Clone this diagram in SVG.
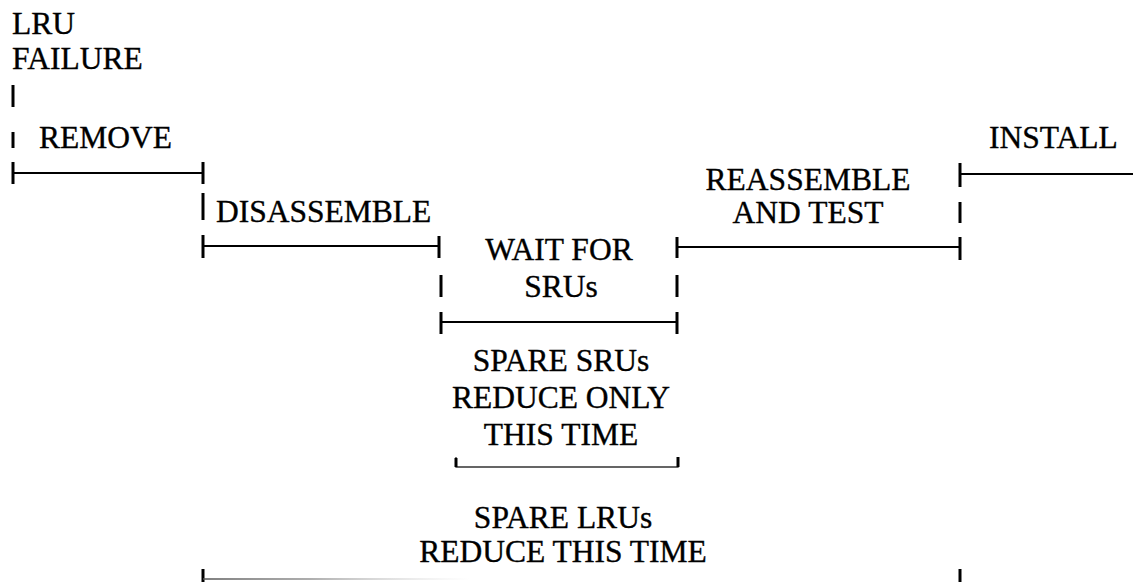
<svg xmlns="http://www.w3.org/2000/svg" width="1133" height="582" viewBox="0 0 1133 582">
  <style>
    text { font-family: "Liberation Serif", "Times New Roman", serif; font-size: 31.5px; fill: #000; stroke: #000; stroke-width: 0.35; }
    .mid { text-anchor: middle; }
    .tick { stroke: #000; stroke-width: 3; fill: none; }
    .bar { stroke: #000; stroke-width: 2; fill: none; }
    .thin { stroke: #333; stroke-width: 1.3; fill: none; }
  </style>
  <defs>
    <linearGradient id="fadeBar" x1="203" y1="0" x2="470" y2="0" gradientUnits="userSpaceOnUse">
      <stop offset="0" stop-color="#555" stop-opacity="1"/>
      <stop offset="0.4" stop-color="#777" stop-opacity="0.8"/>
      <stop offset="1" stop-color="#bbb" stop-opacity="0"/>
    </linearGradient>
  </defs>
  <rect width="1133" height="582" fill="#fff"/>

  <!-- phase labels -->
  <g id="lru-failure">
    <text x="12" y="34">LRU</text>
    <text x="12" y="69">FAILURE</text>
  </g>
  <g id="remove">
    <text x="39" y="148">REMOVE</text>
  </g>
  <g id="disassemble">
    <text x="216" y="222">DISASSEMBLE</text>
  </g>
  <g id="wait-for-srus">
    <text class="mid" x="559" y="260">WAIT FOR</text>
    <text class="mid" x="561" y="297">SRUs</text>
  </g>
  <g id="reassemble-and-test">
    <text class="mid" x="808" y="190">REASSEMBLE</text>
    <text class="mid" x="808" y="223">AND TEST</text>
  </g>
  <g id="install">
    <text x="989" y="148">INSTALL</text>
  </g>
  <g id="spare-srus">
    <text class="mid" x="561" y="371">SPARE SRUs</text>
    <text class="mid" x="561" y="408">REDUCE ONLY</text>
    <text class="mid" x="561" y="445">THIS TIME</text>
  </g>
  <g id="spare-lrus">
    <text class="mid" x="563" y="528">SPARE LRUs</text>
    <text class="mid" x="563" y="562">REDUCE THIS TIME</text>
  </g>

  <!-- timeline brackets -->
  <g id="connectors">
    <!-- remove -->
    <line class="tick" x1="13" y1="85" x2="13" y2="107"/>
    <line class="tick" x1="13" y1="132" x2="13" y2="148"/>
    <line class="tick" x1="13" y1="162" x2="13" y2="184"/>
    <line class="bar" x1="13" y1="173" x2="203" y2="173"/>
    <line class="tick" x1="203" y1="162" x2="203" y2="184"/>
    <!-- disassemble -->
    <line class="tick" x1="203" y1="193" x2="203" y2="220"/>
    <line class="tick" x1="203" y1="235" x2="203" y2="258"/>
    <line class="bar" x1="203" y1="246" x2="439" y2="246"/>
    <line class="tick" x1="439" y1="236" x2="439" y2="258"/>
    <!-- wait for SRUs -->
    <line class="tick" x1="441" y1="275" x2="441" y2="297"/>
    <line class="tick" x1="441" y1="312" x2="441" y2="334"/>
    <line class="bar" x1="441" y1="322" x2="677" y2="322"/>
    <line class="tick" x1="677" y1="237" x2="677" y2="258"/>
    <line class="tick" x1="677" y1="275" x2="677" y2="297"/>
    <line class="tick" x1="677" y1="312" x2="677" y2="334"/>
    <!-- reassemble and test -->
    <line class="bar" x1="677" y1="247" x2="960" y2="247"/>
    <line class="tick" x1="960" y1="237" x2="960" y2="260"/>
    <line class="tick" x1="960" y1="202" x2="960" y2="223"/>
    <!-- install -->
    <line class="tick" x1="960" y1="163" x2="960" y2="187"/>
    <line class="bar" x1="960" y1="174" x2="1133" y2="174"/>
    <!-- spare SRUs span -->
    <path class="thin" d="M456,457 V467 H678 V457"/>
    <line class="tick" x1="456" y1="458" x2="456" y2="467" stroke-width="2"/>
    <line class="tick" x1="678" y1="457" x2="678" y2="467" stroke-width="2"/>
    <!-- spare LRUs span -->
    <line class="tick" x1="203" y1="569" x2="203" y2="582" stroke-width="2.5"/>
    <line class="tick" x1="960" y1="569" x2="960" y2="582" stroke-width="2.5"/>
    <line x1="203" y1="579" x2="470" y2="579" stroke="url(#fadeBar)" stroke-width="1.5"/>
  </g>
</svg>
